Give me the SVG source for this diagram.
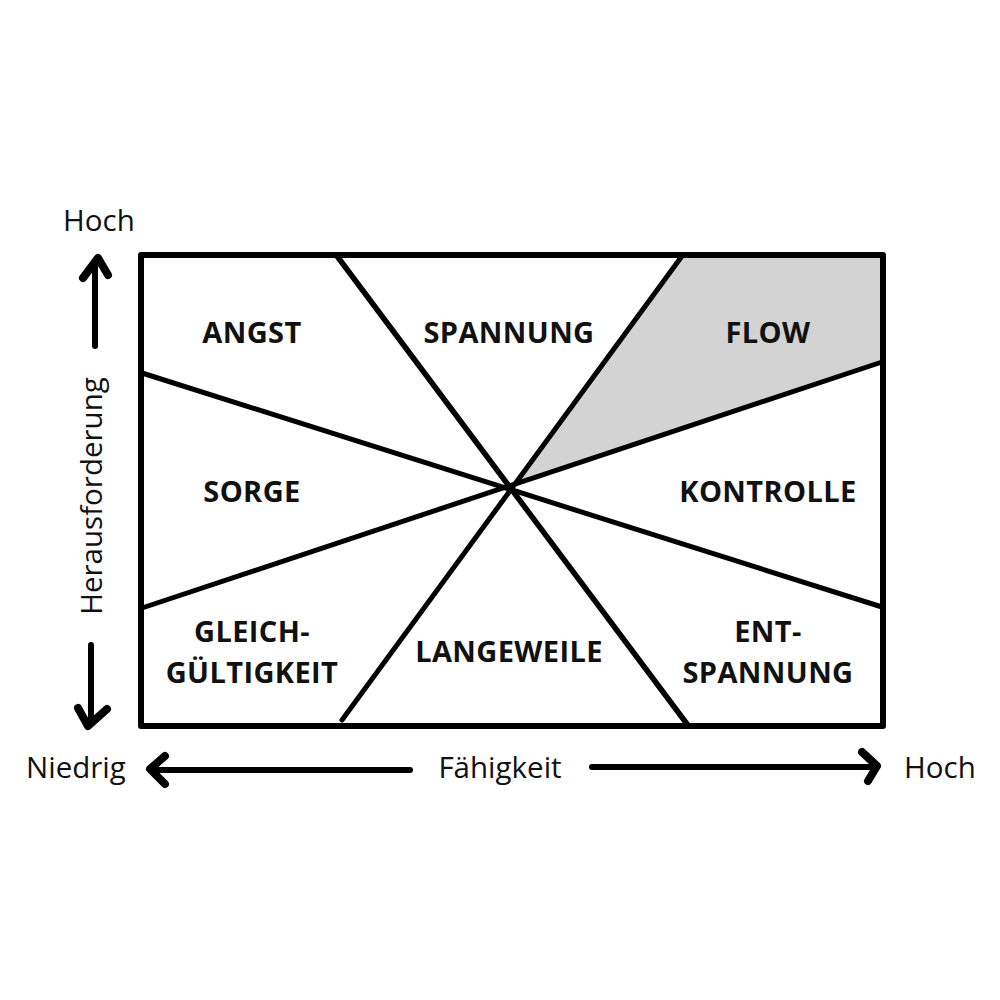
<svg xmlns="http://www.w3.org/2000/svg" width="1000" height="1000" viewBox="0 0 1000 1000">
<style>
.ln{stroke:#000;stroke-width:5;stroke-linecap:round;fill:none}
.ar{stroke:#000;stroke-width:6;stroke-linecap:round;stroke-linejoin:round;fill:none}
.hd{stroke:#000;stroke-width:8;stroke-linecap:round;stroke-linejoin:round;fill:none}
.lb{font-family:"Open Sans","Liberation Sans",sans-serif;font-weight:bold;font-size:29px;letter-spacing:0.4px;text-anchor:middle;fill:#111}
.ax{font-family:"Open Sans","Liberation Sans",sans-serif;font-size:29.5px;fill:#111}
</style>
<rect width="1000" height="1000" fill="#fff"/>
<g id="flow-fill"><polygon points="682,256 882,256 882,362 510,487" fill="#d3d3d3"/></g>
<g id="connectors">
<line class="ln" x1="337" y1="256" x2="687" y2="724" style="stroke-width:5.5"/>
<line class="ln" x1="682" y1="256" x2="342" y2="720"/>
<line class="ln" x1="142" y1="373" x2="882" y2="607"/>
<line class="ln" x1="142" y1="608" x2="882" y2="362"/>
<rect x="141" y="255" width="742" height="471" class="ln" style="stroke-width:6;stroke-linejoin:round"/>
</g>
<g id="arrows">
<path class="ar" d="M95,346 L95,264"/><path class="hd" d="M83,278 L98,258 L108,275"/>
<path class="ar" d="M91,645 L91,718"/><path class="hd" d="M78,708 L88,726 L107,709"/>
<path class="ar" d="M410,770 L155,770"/><path class="hd" d="M165,756 L150,769 L165,784"/>
<path class="ar" d="M592,767 L872,767"/><path class="hd" d="M862,752 L877,766 L868,781"/>
</g>
<g id="angst"><text class="lb" x="252" y="343">ANGST</text></g>
<g id="spannung"><text class="lb" x="509" y="343">SPANNUNG</text></g>
<g id="flow"><text class="lb" x="768" y="343">FLOW</text></g>
<g id="sorge"><text class="lb" x="252" y="502">SORGE</text></g>
<g id="kontrolle"><text class="lb" x="768" y="502">KONTROLLE</text></g>
<g id="gleichgueltigkeit"><text class="lb" x="252" y="642">GLEICH-</text><text class="lb" x="252" y="683">GÜLTIGKEIT</text></g>
<g id="langeweile"><text class="lb" x="509" y="662">LANGEWEILE</text></g>
<g id="entspannung"><text class="lb" x="768" y="642">ENT-</text><text class="lb" x="768" y="683">SPANNUNG</text></g>
<g id="axis-labels">
<text class="ax" x="63" y="231">Hoch</text>
<text class="ax" x="26" y="778">Niedrig</text>
<text class="ax" x="500" y="778" text-anchor="middle">Fähigkeit</text>
<text class="ax" x="904" y="778">Hoch</text>
<text class="ax" transform="translate(102,496) rotate(-90)" text-anchor="middle">Herausforderung</text>
</g>
</svg>
